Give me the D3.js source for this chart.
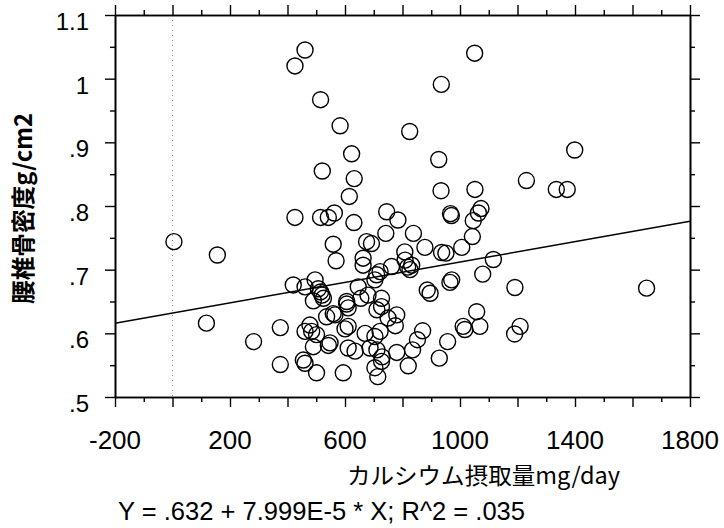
<!DOCTYPE html>
<html><head><meta charset="utf-8">
<script src="https://cdn.jsdelivr.net/npm/d3@7"></script>
<style>body{margin:0;background:#fff}svg{display:block}</style>
</head><body><svg id="c" width="724" height="528"></svg>
<script>
// Data
const calcium = [461,426,515,583,623,521,632,615,426,515,542,563,631,5,156,559,569,
1051,935,825,1399,926,1231,1335,1373,934,1052,967,970,1073,1064,1046,1043,745,784,742,838,
675,692,878,1006,936,951,808,809,762,832,1116,1079,1191,1649,965,971,886,896,1058,1011,1017,
1069,1209,1190,957,928,870,852,835,780,820,714,729,727,775,727,727,780,750,722,722,826,818,
663,663,710,646,606,611,565,536,461,484,478,501,490,548,611,611,635,670,687,594,501,455,461,
711,711,118,282,375,375,420,496,507,515,520,525,490,559,606,542,600,461,704,704,704,680,655];
const bmd = [1.045,1.020,0.967,0.926,0.882,0.855,0.843,0.815,0.782,0.782,0.782,0.789,0.774,0.744,0.723,0.740,0.714,
1.040,0.991,0.917,0.888,0.873,0.840,0.826,0.826,0.824,0.826,0.788,0.785,0.796,0.789,0.777,0.752,0.791,0.778,0.757,0.757,
0.744,0.741,0.735,0.735,0.727,0.726,0.728,0.715,0.705,0.707,0.716,0.693,0.672,0.671,0.680,0.684,0.668,0.663,0.634,0.611,0.606,
0.611,0.611,0.599,0.587,0.561,0.604,0.590,0.574,0.570,0.549,0.532,0.563,0.556,0.612,0.655,0.642,0.629,0.624,0.603,0.697,0.700,0.704,
0.718,0.707,0.692,0.673,0.650,0.640,0.629,0.626,0.603,0.603,0.613,0.598,0.579,0.585,0.611,0.577,0.572,0.600,0.577,0.538,0.538,0.558,0.553,
0.574,0.637,0.616,0.587,0.609,0.551,0.676,0.684,0.670,0.665,0.660,0.655,0.651,0.631,0.646,0.581,0.607,0.673,0.684,0.595,0.546,0.660,0.655];
const xTickLabels = [-200, 200, 600, 1000, 1400, 1800];
const yTickLabels = [".5", ".6", ".7", ".8", ".9", "1", "1.1"];
const yTickValues = [0.5, 0.6, 0.7, 0.8, 0.9, 1.0, 1.1];
const fitIntercept = 0.632, fitSlope = 7.999e-5;
const xTitle = "カルシウム摂取量mg/day";
const yTitle = "腰椎骨密度g/cm2";
const equation = "Y = .632 + 7.999E-5 * X; R^2 = .035";

const svg = d3.select("#c");
const L = 115, R = 690, T = 15, B = 397;
const x = d3.scaleLinear().domain([-200, 1800]).range([L, R]);
const y = d3.scaleLinear().domain([0.5, 1.1]).range([B, T]);

const xMajor = d3.range(-200, 1801, 200);
const xMinor = d3.range(-100, 1800, 200);
const yMajor = yTickValues;
const yMinor = d3.range(0.55, 1.1, 0.1);

function styleAxis(g){
  g.select(".domain").attr("stroke","#000").attr("stroke-width",1.6);
  g.selectAll(".tick line").attr("stroke","#000").attr("stroke-width",1.4);
  g.selectAll("text").remove();
}
// dotted reference line at x=0
svg.append("line").attr("x1", x(0)).attr("x2", x(0)).attr("y1", T).attr("y2", B)
  .attr("stroke", "#888").attr("stroke-width", 1).attr("stroke-dasharray", "1,4");

// axes: major + minor ticks on all sides
const axes = [
  [d3.axisBottom(x), `translate(0,${B})`, xMajor, xMinor],
  [d3.axisTop(x), `translate(0,${T})`, xMajor, xMinor],
  [d3.axisLeft(y), `translate(${L},0)`, yMajor, yMinor],
  [d3.axisRight(y), `translate(${R},0)`, yMajor, yMinor]
];
axes.forEach(([ax, tr, maj, mn]) => {
  const a1 = ax.copy ? ax : ax;
  svg.append("g").attr("transform", tr)
    .call(ax.tickValues(maj).tickSize(10).tickSizeOuter(0).tickFormat(""))
    .call(styleAxis);
  svg.append("g").attr("transform", tr)
    .call(ax.tickValues(mn).tickSize(5).tickSizeOuter(0).tickFormat(""))
    .call(styleAxis);
});

// tick labels
svg.append("g").selectAll("text").data(xTickLabels).join("text")
  .attr("x", d => x(d)).attr("y", 449).attr("text-anchor", "middle")
  .attr("font-family", "'Liberation Sans', Arial, sans-serif").attr("font-size", 26)
  .text(d => d);
svg.append("g").selectAll("text").data(yTickValues).join("text")
  .attr("x", 89).attr("y", d => y(d) + 15).attr("text-anchor", "end")
  .attr("font-family", "'Liberation Sans', Arial, sans-serif").attr("font-size", 24)
  .text((d, i) => yTickLabels[i]);

// regression line
svg.append("line")
  .attr("x1", x(-200)).attr("y1", y(fitIntercept + fitSlope * -200))
  .attr("x2", x(1800)).attr("y2", y(fitIntercept + fitSlope * 1800))
  .attr("stroke", "#000").attr("stroke-width", 1.5);

// points
svg.append("g").selectAll("circle").data(calcium).join("circle")
  .attr("cx", d => x(d)).attr("cy", (d, i) => y(bmd[i])).attr("r", 8)
  .attr("fill", "none").attr("stroke", "#000").attr("stroke-width", 1.4);

// titles
svg.append("text").attr("x", 347).attr("y", 484)
  .attr("font-family", "'Noto Sans CJK JP', sans-serif").attr("font-size", 23)
  .attr("textLength", 273).attr("lengthAdjust", "spacingAndGlyphs")
  .text(xTitle);
svg.append("text").attr("transform", "translate(32,304) rotate(-90)")
  .attr("font-family", "'Noto Sans CJK JP', sans-serif").attr("font-size", 24).attr("font-weight", "bold")
  .attr("textLength", 191).attr("lengthAdjust", "spacingAndGlyphs")
  .text(yTitle);
svg.append("text").attr("x", 118).attr("y", 520)
  .attr("font-family", "'Liberation Sans', Arial, sans-serif").attr("font-size", 25)
  .attr("textLength", 407).attr("lengthAdjust", "spacingAndGlyphs")
  .text(equation);
</script></body></html>
